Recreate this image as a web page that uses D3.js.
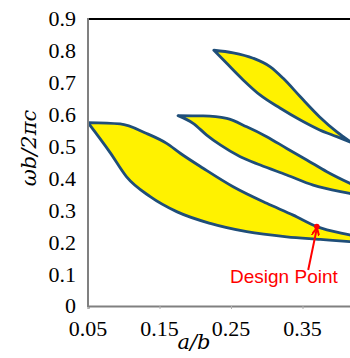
<!DOCTYPE html>
<html lang="en">
<head>
  <meta charset="UTF-8" />
  <title>Band gap map</title>
  <script src="https://d3js.org/d3.v7.min.js"></script>
  <style>
    body { margin: 0; background: #fff; }
    .tick-label { font-family: "Liberation Serif", serif; font-size: 22px; fill: #000; }
    .axis-title { font-family: "DejaVu Serif", "Liberation Serif", serif; font-style: italic; font-size: 21px; fill: #000; }
    .note { font-family: "Liberation Sans", Arial, sans-serif; font-size: 19px; fill: #ff0000; }
  </style>
</head>
<body>
  <svg width="350" height="358"></svg>

  <script>
    // tick labels
    const xTicks = [0.05, 0.15, 0.25, 0.35];
    const yTicks = [0, 0.1, 0.2, 0.3, 0.4, 0.5, 0.6, 0.7, 0.8, 0.9];

    // gap 1 (lowest), upper and lower edges, [a/b, wb/2pic]
    const gap1Top = [[0.05, 0.575], [0.095, 0.571], [0.132, 0.541], [0.160, 0.510], [0.179, 0.479],
      [0.211, 0.432], [0.253, 0.374], [0.300, 0.322], [0.337, 0.285], [0.370, 0.249], [0.416, 0.223], [0.45, 0.207]];
    const gap1Bottom = [[0.05, 0.575], [0.081, 0.481], [0.104, 0.405], [0.137, 0.343], [0.174, 0.296],
      [0.221, 0.259], [0.272, 0.233], [0.328, 0.217], [0.375, 0.209], [0.416, 0.202], [0.45, 0.197]];

    // gap 2
    const gap2Top = [[0.176, 0.597], [0.211, 0.596], [0.244, 0.588], [0.272, 0.562], [0.300, 0.531],
      [0.328, 0.494], [0.356, 0.458], [0.384, 0.421], [0.416, 0.385], [0.45, 0.352]];
    const gap2Bottom = [[0.176, 0.597], [0.197, 0.573], [0.216, 0.536], [0.235, 0.505], [0.263, 0.468],
      [0.291, 0.442], [0.328, 0.411], [0.365, 0.379], [0.416, 0.353], [0.45, 0.338]];

    // gap 3 (highest)
    const gap3Top = [[0.226, 0.802], [0.253, 0.794], [0.281, 0.777], [0.305, 0.750], [0.323, 0.714],
      [0.347, 0.656], [0.374, 0.593], [0.398, 0.546], [0.419, 0.512]];
    const gap3Bottom = [[0.226, 0.802], [0.244, 0.761], [0.267, 0.709], [0.291, 0.661], [0.319, 0.620],
      [0.347, 0.583], [0.374, 0.552], [0.398, 0.531], [0.419, 0.512]];

    const gaps = [[gap1Top, gap1Bottom], [gap2Top, gap2Bottom], [gap3Top, gap3Bottom]];

    // design point annotation
    const designPoint = [0.370, 0.249];
    const arrowTail = [0.358, 0.113];
    const noteAt = [0.324, 0.071];

    const svg = d3.select("svg");

    const x = d3.scaleLinear().domain([0.05, 0.45]).range([88, 374]);
    const y = d3.scaleLinear().domain([0, 0.9]).range([306, 19]);

    svg.append("clipPath").attr("id", "clip")
      .append("rect").attr("x", 88).attr("y", 0).attr("width", 262).attr("height", 306);

    const line = d3.line()
      .x(d => x(d[0]))
      .y(d => y(d[1]))
      .curve(d3.curveMonotoneX);

    // upper edge left to right, then lower edge back to the tip
    const outline = d => line(d[0]) + "L" + line(d[1].slice().reverse()).slice(1) + "Z";

    const plot = svg.append("g").attr("clip-path", "url(#clip)");

    plot.selectAll("path.gap")
      .data(gaps)
      .enter()
      .append("path")
      .attr("class", "gap")
      .attr("d", outline)
      .attr("fill", "#fff200")
      .attr("stroke", "#1f4e79")
      .attr("stroke-width", 2.8)
      .attr("stroke-linejoin", "round");

    // frame
    svg.append("line")
      .attr("x1", 88).attr("x2", 350).attr("y1", y(0.9)).attr("y2", y(0.9))
      .attr("stroke", "#000").attr("stroke-width", 2);

    svg.append("g")
      .attr("transform", `translate(0,${y(0)})`)
      .call(d3.axisBottom(x).tickValues(xTicks).tickSize(3).tickFormat(""))
      .call(g => g.select(".domain").attr("stroke", "#808080").attr("stroke-width", 2))
      .call(g => g.selectAll(".tick line").attr("stroke", "#b0b0b0"));

    svg.append("line")
      .attr("x1", 88).attr("x2", 88).attr("y1", y(0.9) - 1).attr("y2", y(0) + 1)
      .attr("stroke", "#808080").attr("stroke-width", 2);

    // tick labels
    svg.selectAll("text.ytick")
      .data(yTicks)
      .enter()
      .append("text")
      .attr("class", "tick-label")
      .attr("x", 76)
      .attr("y", d => y(d))
      .attr("dy", "0.34em")
      .attr("text-anchor", "end")
      .text(d => d === 0 ? "0" : d3.format(".1f")(d));

    svg.selectAll("text.xtick")
      .data(xTicks)
      .enter()
      .append("text")
      .attr("class", "tick-label")
      .attr("x", d => x(d))
      .attr("y", 336)
      .attr("text-anchor", "middle")
      .text(d => d3.format(".2f")(d));

    // axis titles
    svg.append("text")
      .attr("class", "axis-title")
      .attr("x", 194).attr("y", 349)
      .attr("text-anchor", "middle")
      .text("a/b");

    svg.append("text")
      .attr("class", "axis-title")
      .attr("transform", "translate(36,148) rotate(-90)")
      .attr("text-anchor", "middle")
      .text("ωb/2πc");

    // design point arrow
    svg.append("defs").append("marker")
      .attr("id", "head")
      .attr("viewBox", "0 0 10 10")
      .attr("refX", 9).attr("refY", 5)
      .attr("markerWidth", 4).attr("markerHeight", 4)
      .attr("orient", "auto")
      .append("path")
      .attr("d", "M0,0 L10,5 L0,10")
      .attr("fill", "none")
      .attr("stroke", "#ff0000")
      .attr("stroke-width", 2.5);

    svg.append("line")
      .attr("x1", x(arrowTail[0])).attr("y1", y(arrowTail[1]))
      .attr("x2", x(designPoint[0])).attr("y2", y(designPoint[1]) + 2)
      .attr("stroke", "#ff0000").attr("stroke-width", 2)
      .attr("marker-end", "url(#head)");

    svg.append("circle")
      .attr("cx", x(designPoint[0])).attr("cy", y(designPoint[1]))
      .attr("r", 2.8)
      .attr("fill", "#ff0000");

    svg.append("text")
      .attr("class", "note")
      .attr("x", x(noteAt[0])).attr("y", y(noteAt[1]))
      .attr("text-anchor", "middle")
      .text("Design Point");
  </script>
</body>
</html>
